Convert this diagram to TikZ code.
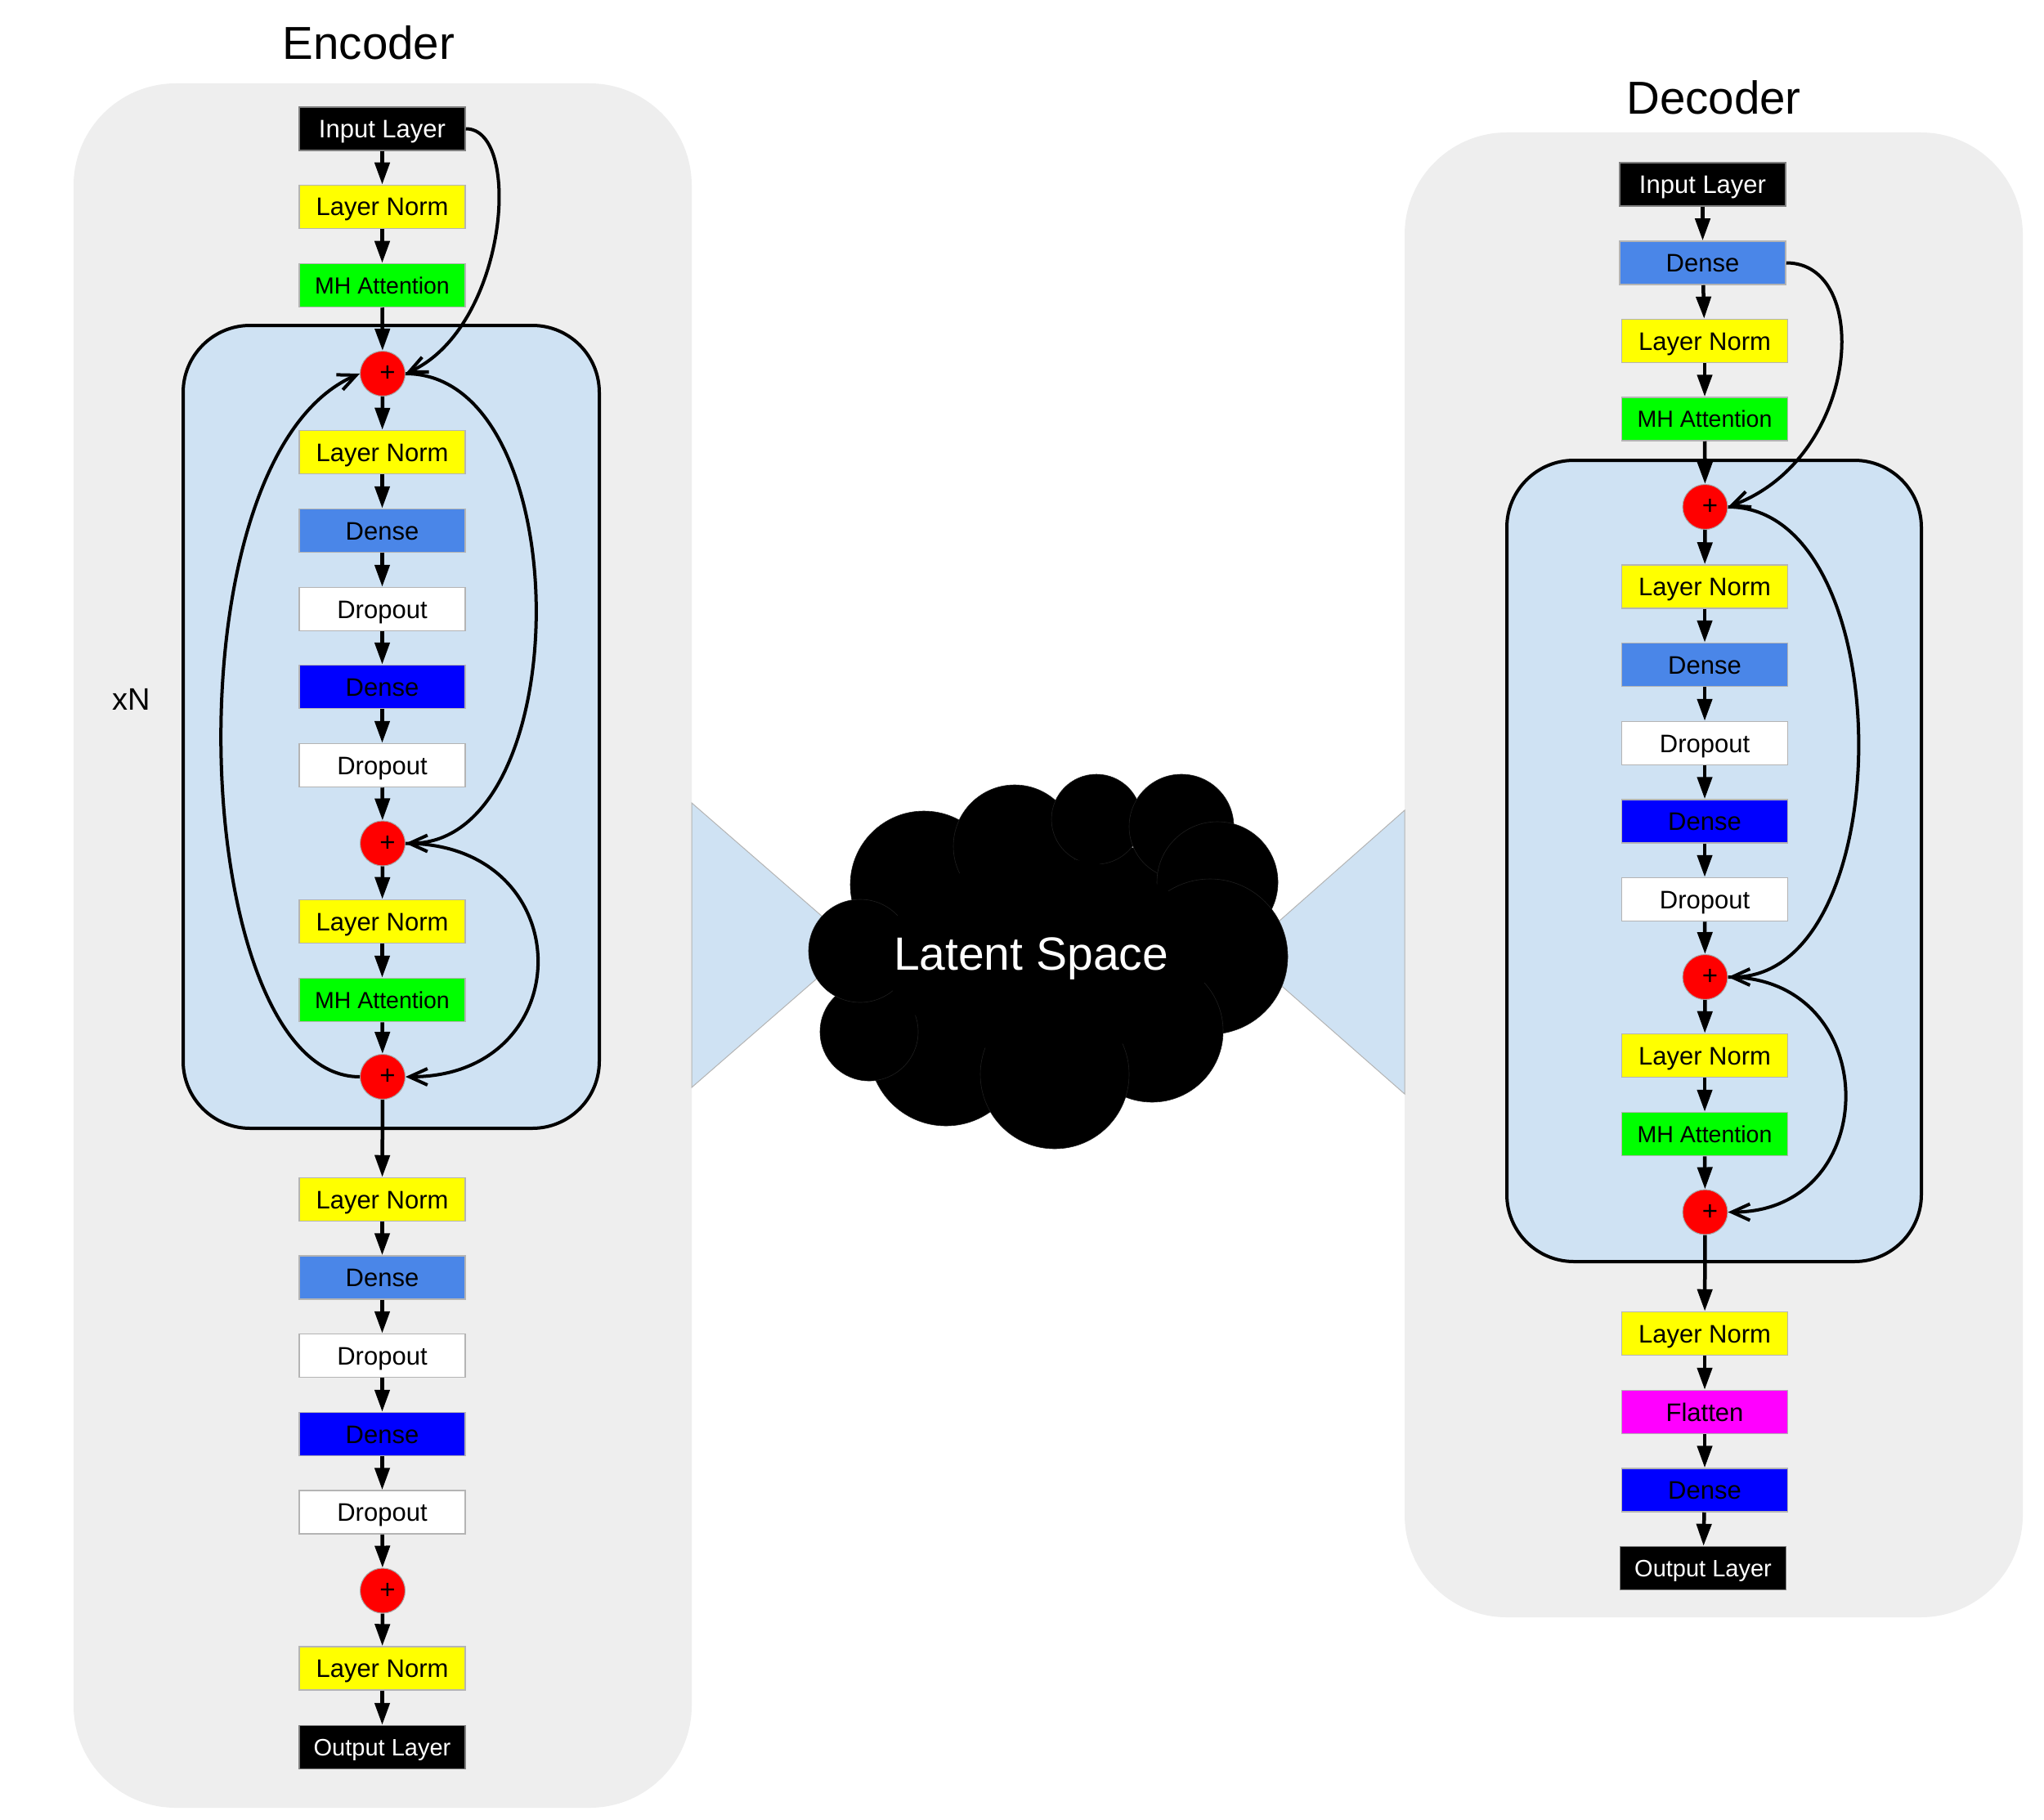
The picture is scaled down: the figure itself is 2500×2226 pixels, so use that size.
\documentclass[tikz,border=0pt]{standalone}
\usepackage{fontspec}
\setmainfont{Liberation Sans}
\usetikzlibrary{arrows.meta}
\definecolor{bggray}{HTML}{EEEEEE}
\definecolor{lblue}{HTML}{CFE2F3}
\definecolor{dblue}{HTML}{4A86E8}
\definecolor{pblue}{HTML}{0000FF}
\definecolor{pyellow}{HTML}{FFFF00}
\definecolor{pgreen}{HTML}{00FF00}
\definecolor{pmag}{HTML}{FF00FF}
\definecolor{pred}{HTML}{FF0000}
\definecolor{bordergray}{HTML}{B4B4B4}
\tikzset{
  blk/.style={rectangle, minimum width=203pt, minimum height=53pt, inner sep=0pt,
    draw=bordergray, line width=1.5pt, font=\fontsize{31}{36}\selectfont,
    text height=22pt, text depth=0pt},
  inout/.style={blk, fill=black, text=white, draw=gray},
  outl/.style={inout, font=\fontsize{29}{34}\selectfont, text height=21pt},
  lnorm/.style={blk, fill=pyellow},
  mha/.style={blk, fill=pgreen, font=\fontsize{28.5}{34}\selectfont, text height=20.5pt},
  densea/.style={blk, fill=dblue},
  denseb/.style={blk, fill=pblue},
  drop/.style={blk, fill=white},
  flat/.style={blk, fill=pmag},
  plusnode/.style={circle, fill=pred, draw=gray!70, line width=1pt, minimum size=55pt,
    inner sep=0pt, font=\fontsize{33}{34}\selectfont},
  flow/.style={line width=4.5pt, -{Triangle[length=27pt,width=18pt]}},
  skip/.style={line width=4pt, -{Straight Barb[length=22pt,width=20pt]}},
  panel/.style={fill=bggray, rounded corners=125pt},
  inner/.style={fill=lblue, draw=black, line width=4pt, rounded corners=82pt},
  wedge/.style={fill=lblue, draw=bordergray, line width=1pt},
  puff/.style={fill=black, draw=black!88, line width=0.6pt},
  title/.style={font=\fontsize{56.5}{60}\selectfont, anchor=base}
}
\newcommand{\pl}{\hspace*{12pt}+}
\begin{document}
\begin{tikzpicture}[x=1pt,y=-1pt]
\useasboundingbox (0,0) rectangle (2500,2226);
\fill[white] (0,0) rectangle (2500,2226);

% panels
\fill[panel] (90,102) rectangle (846,2211);
\fill[panel] (1718,162) rectangle (2474,1978);

% wedges
\filldraw[wedge] (846,982) -- (1046,1156) -- (846,1330) -- cycle;
\filldraw[wedge] (1718,991) -- (1521,1165) -- (1718,1338) -- cycle;

% inner repeated blocks
\filldraw[inner] (224,398) rectangle (733,1380);
\filldraw[inner] (1843,563) rectangle (2350,1543);

% cloud
\fill[black] (1280,1170) ellipse [x radius=230pt, y radius=150pt];
\filldraw[puff] (1130,1082) circle [radius=90pt];
\filldraw[puff] (1241,1035) circle [radius=75pt];
\filldraw[puff] (1341,1002) circle [radius=55pt];
\filldraw[puff] (1445,1011) circle [radius=64pt];
\filldraw[puff] (1489,1079) circle [radius=74pt];
\filldraw[puff] (1480,1170) circle [radius=95pt];
\filldraw[puff] (1409,1261) circle [radius=87pt];
\filldraw[puff] (1157,1283) circle [radius=94pt];
\filldraw[puff] (1290,1314) circle [radius=91pt];
\filldraw[puff] (1063,1262) circle [radius=60pt];
\filldraw[puff] (1052,1163) circle [radius=63pt];
\fill[black] (1280,1170) ellipse [x radius=200pt, y radius=120pt];
\node[text=white, font=\fontsize{57}{60}\selectfont, anchor=base] (latent) at (1261,1186) {Latent Space};

% titles
\node[title] (enctitle) at (451,73) {Encoder};
\node[title] (dectitle) at (2096,140) {Decoder};
\node[font=\fontsize{38}{40}\selectfont, anchor=base] (xn) at (161,868) {xN};

% encoder nodes
\node[inout]  (e1)  at (467.5,157.5) {Input Layer};
\node[lnorm]  (e2)  at (467.5,253) {Layer Norm};
\node[mha]    (e3)  at (467.5,349) {MH Attention};
\node[plusnode] (ep1) at (468,457) {\pl};
\node[lnorm]  (e4)  at (467.5,553) {Layer Norm};
\node[densea] (e5)  at (467.5,649) {Dense};
\node[drop]   (e6)  at (467.5,745) {Dropout};
\node[denseb] (e7)  at (467.5,840) {Dense};
\node[drop]   (e8)  at (467.5,936) {Dropout};
\node[plusnode] (ep2) at (468,1031.5) {\pl};
\node[lnorm]  (e9)  at (467.5,1127) {Layer Norm};
\node[mha]    (e10) at (467.5,1223) {MH Attention};
\node[plusnode] (ep3) at (468,1317) {\pl};
\node[lnorm]  (e11) at (467.5,1467) {Layer Norm};
\node[densea] (e12) at (467.5,1562.5) {Dense};
\node[drop]   (e13) at (467.5,1658) {Dropout};
\node[denseb] (e14) at (467.5,1754) {Dense};
\node[drop]   (e15) at (467.5,1849.5) {Dropout};
\node[plusnode] (ep4) at (468,1945.5) {\pl};
\node[lnorm]  (e16) at (467.5,2040.5) {Layer Norm};
\node[outl]   (e17) at (467.5,2137) {Output Layer};

% decoder nodes
\node[inout]  (d1)  at (2082.5,225.5) {Input Layer};
\node[densea] (d2)  at (2082.5,321.5) {Dense};
\node[lnorm]  (d3)  at (2085,417) {Layer Norm};
\node[mha]    (d4)  at (2085,512.5) {MH Attention};
\node[plusnode] (dp1) at (2085.5,620) {\pl};
\node[lnorm]  (d5)  at (2085,717.5) {Layer Norm};
\node[densea] (d6)  at (2085,813) {Dense};
\node[drop]   (d7)  at (2085,909) {Dropout};
\node[denseb] (d8)  at (2085,1004.5) {Dense};
\node[drop]   (d9)  at (2085,1100) {Dropout};
\node[plusnode] (dp2) at (2085.5,1195) {\pl};
\node[lnorm]  (d10) at (2085,1291) {Layer Norm};
\node[mha]    (d11) at (2085,1387) {MH Attention};
\node[plusnode] (dp3) at (2085.5,1482.5) {\pl};
\node[lnorm]  (d12) at (2085,1631) {Layer Norm};
\node[flat]   (d13) at (2085,1727) {Flatten};
\node[denseb] (d14) at (2085,1822.5) {Dense};
\node[outl]   (d15) at (2083,1918) {Output Layer};

% straight connectors
\foreach \a/\b in {e1/e2,e2/e3,e3/ep1,ep1/e4,e4/e5,e5/e6,e6/e7,e7/e8,e8/ep2,ep2/e9,e9/e10,e10/ep3,ep3/e11,e11/e12,e12/e13,e13/e14,e14/e15,e15/ep4,ep4/e16,e16/e17,
  d1/d2,d2/d3,d3/d4,d4/dp1,dp1/d5,d5/d6,d6/d7,d7/d8,d8/d9,d9/dp2,dp2/d10,d10/d11,d11/dp3,dp3/d12,d12/d13,d13/d14,d14/d15}
  \draw[flow] (\a) -- (\b);

% encoder skip connections
\draw[skip] (e1.east) .. controls +(70,0) and +(125,-57) .. (ep1.east);
\draw[skip] (ep3.west) .. controls +(-210,0) and +(-240,103) .. (ep1.west);
\draw[skip] (ep1.east) .. controls +(212,0) and +(212,0) .. (ep2.east);
\draw[skip] (ep2.east) .. controls +(215,0) and +(215,0) .. (ep3.east);

% decoder skip connections
\draw[skip] (d2.east) .. controls +(106,0) and +(162,-60) .. (dp1.east);
\draw[skip] (dp1.east) .. controls +(212,0) and +(212,0) .. (dp2.east);
\draw[skip] (dp2.east) .. controls +(191,0) and +(191,0) .. (dp3.east);
\end{tikzpicture}
\end{document}
